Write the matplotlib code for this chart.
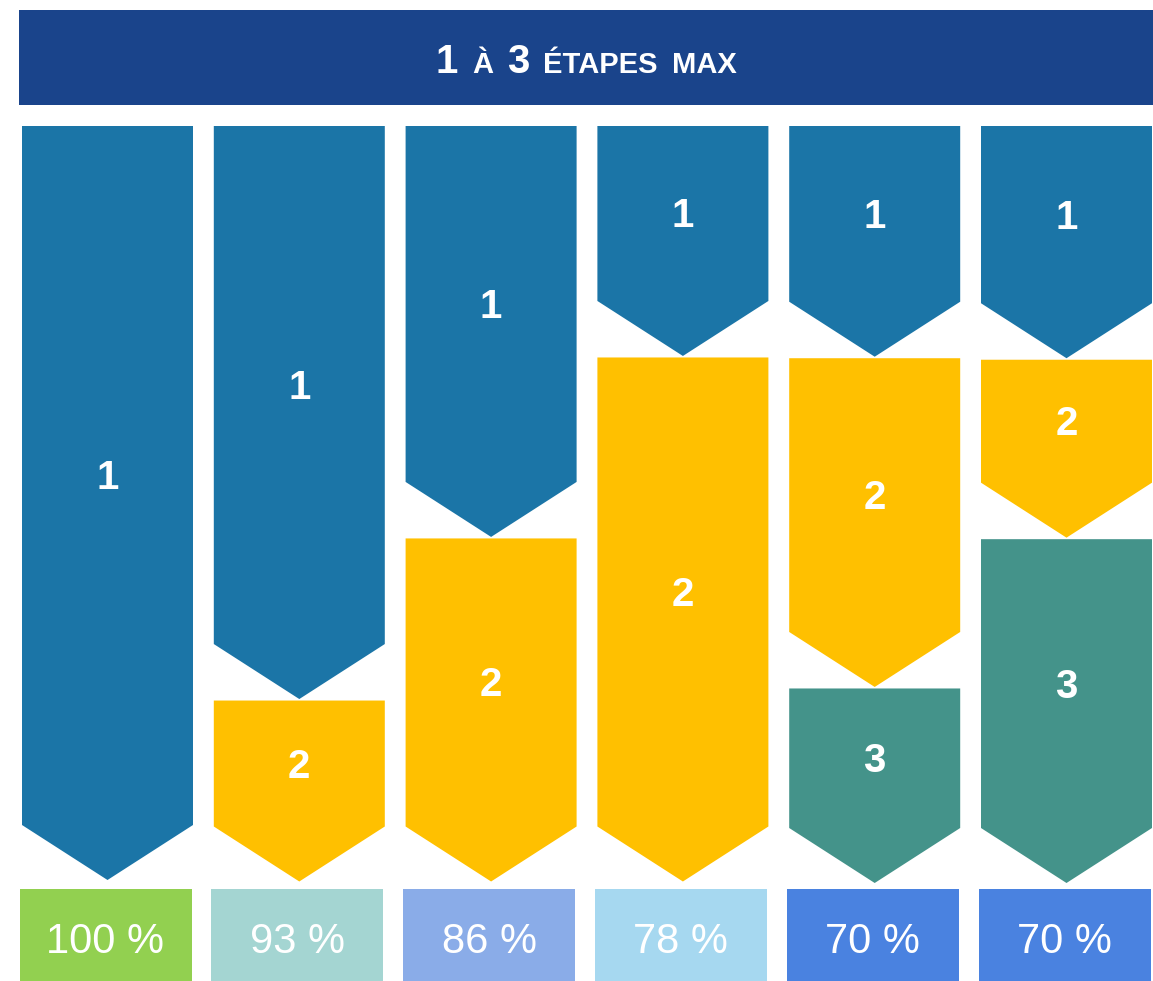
import matplotlib.pyplot as plt
from matplotlib.patches import Polygon, Rectangle

# parts des etapes par parcours (en % de la hauteur totale)
steps = [
    [100],
    [76, 24],
    [54.5, 45.5],
    [30.5, 69.5],
    [30.6, 43.6, 25.8],
    [30.8, 23.6, 45.6],
]
rates = [100, 93, 86, 78, 70, 70]
rate_colors = ["#92d050", "#a4d5d2", "#8aace8", "#a6d8f0", "#4a82e0", "#4a82e0"]
step_colors = ["#1b75a7", "#ffc000", "#44938a"]
title_parts = [("1", 29), ("À", 21), ("3", 29), ("ÉTAPES", 21), ("MAX", 21)]

plt.rcParams['font.family'] = ['Liberation Sans', 'DejaVu Sans']

W, H = 1153, 981
fig = plt.figure(figsize=(W / 100, H / 100), dpi=100)
ax = fig.add_axes([0, 0, 1, 1])
# x : 1 unite = ecart entre colonnes, y : 0..100 = haut..pointe
px_x = 191.8
px_y = 7.54
x0 = -107.5 / px_x
ax.set_xlim(x0, x0 + W / px_x)
ax.set_ylim((H - 126) / px_y, -126 / px_y)
ax.axis("off")

col_w = 171 / px_x
tip = 55 / px_y
gap = 1.5 / px_y

for i, col in enumerate(steps):
    top = 0
    for j, s in enumerate(col):
        bottom = top + s
        left, right = i - col_w / 2, i + col_w / 2
        pts = [(left, top), (right, top), (right, bottom - tip),
               (i, bottom), (left, bottom - tip)]
        ax.add_patch(Polygon(pts, closed=True, facecolor=step_colors[j],
                             edgecolor="none"))
        ax.text(i, (top + bottom - tip) / 2 + 3 / px_y, str(j + 1), color="white",
                fontsize=29, fontweight="bold", ha="center", va="center")
        top = bottom + gap

# boites de pourcentage
box_top = (889 - 126) / px_y
box_h = (H - 889) / px_y
for i, r in enumerate(rates):
    bw = 172 / px_x
    ax.add_patch(Rectangle((i - bw / 2 - 2 / px_x, box_top), bw, box_h,
                           facecolor=rate_colors[i], edgecolor="none"))
    ax.text(i - 2 / px_x, (953 - 126) / px_y, f"{r} %", color="white",
            fontsize=30, ha="center", va="baseline")

# bandeau titre
t_top = (10 - 126) / px_y
t_h = 95 / px_y
ax.add_patch(Rectangle(((19 - 107.5) / px_x, t_top), (W - 19) / px_x, t_h,
                       facecolor="#1a448b", edgecolor="none"))

renderer = fig.canvas.get_renderer()
texts = []
for s, fs in title_parts:
    texts.append(ax.text(0, 0, s, color="white", fontsize=fs, fontweight="bold",
                         ha="left", va="baseline", transform=None))
widths = [t.get_window_extent(renderer).width for t in texts]
space = 14
x = (19 + W) / 2 - (sum(widths) + space * (len(texts) - 1)) / 2
base = H - 73
for t, w in zip(texts, widths):
    t.set_position((x, base))
    x += w + space

fig.savefig("out.png", dpi=100, facecolor="white")
